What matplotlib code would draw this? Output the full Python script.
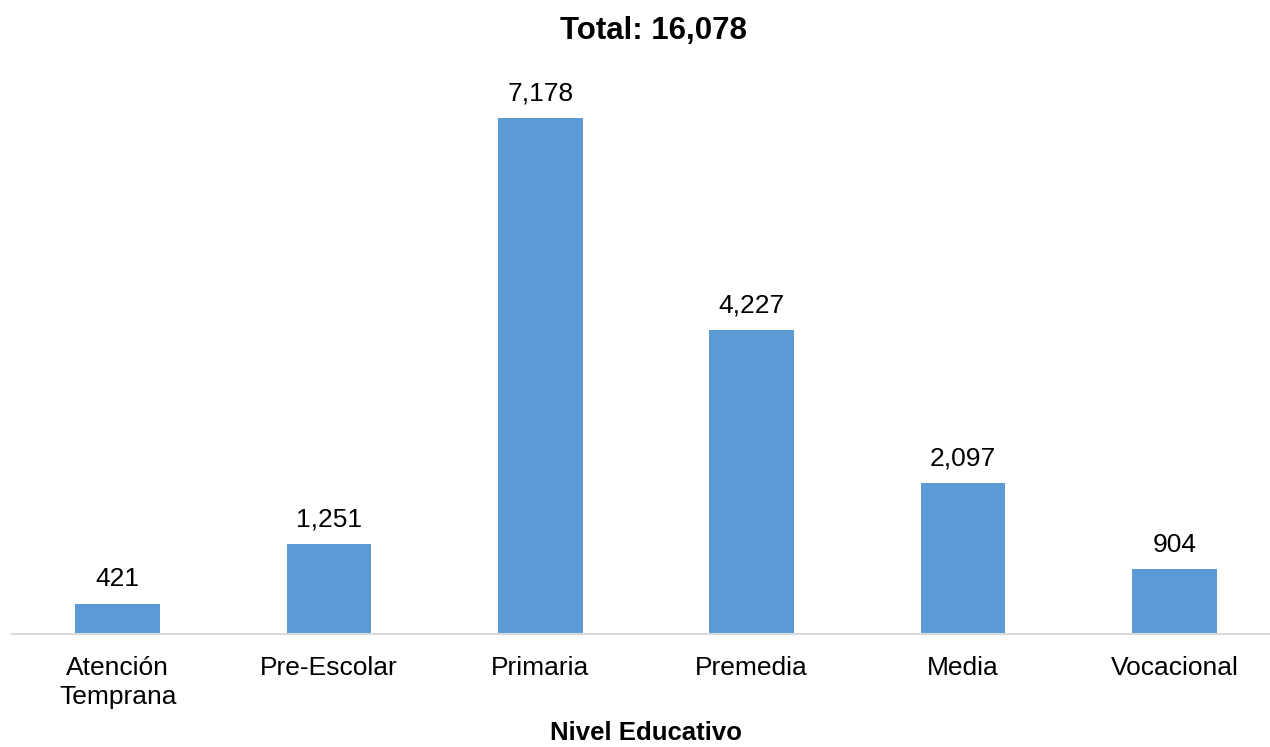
import matplotlib
matplotlib.use("Agg")
import matplotlib.pyplot as plt

categories = ["Atención\nTemprana", "Pre-Escolar", "Primaria", "Premedia", "Media", "Vocacional"]
values = [421, 1251, 7178, 4227, 2097, 904]
title = "Total: 16,078"
xlabel = "Nivel Educativo"

plt.rcParams['font.family'] = ['Liberation Sans', 'DejaVu Sans']

fig = plt.figure(figsize=(12.7, 7.47), dpi=100)
W, H = 1270, 747
left_px, right_px = 12, 1280
base_px, top_px = 634, 59
ax = fig.add_axes([left_px / W, (H - base_px) / H, (right_px - left_px) / W, (base_px - top_px) / H])

x = list(range(len(categories)))
bars = ax.bar(x, values, width=0.40, color="#5B9BD5", zorder=2)
ax.set_xlim(-0.5, len(categories) - 0.5)
ax.set_ylim(0, 8000)

for xi, v in zip(x, values):
    ax.annotate(f"{v:,}", (xi, v), xytext=(0, 9), textcoords="offset points",
                ha="center", va="bottom", fontsize=19, color="#000000")

ax.set_xticks(x)
ax.set_xticklabels(categories, fontsize=19, linespacing=1.25)
ax.tick_params(axis="x", length=0, pad=16)
ax.set_yticks([])
for s in ["top", "right", "left"]:
    ax.spines[s].set_visible(False)
ax.spines["bottom"].set_color("#D9D9D9")
ax.spines["bottom"].set_linewidth(1.5)

fig.text(653 / W, 1 - 31 / H, title, ha="center", va="center", fontsize=22.5, fontweight="bold")
fig.text(646 / W, 1 - 733 / H, xlabel, ha="center", va="center", fontsize=18.5, fontweight="bold")

fig.savefig("out.png", dpi=100)
